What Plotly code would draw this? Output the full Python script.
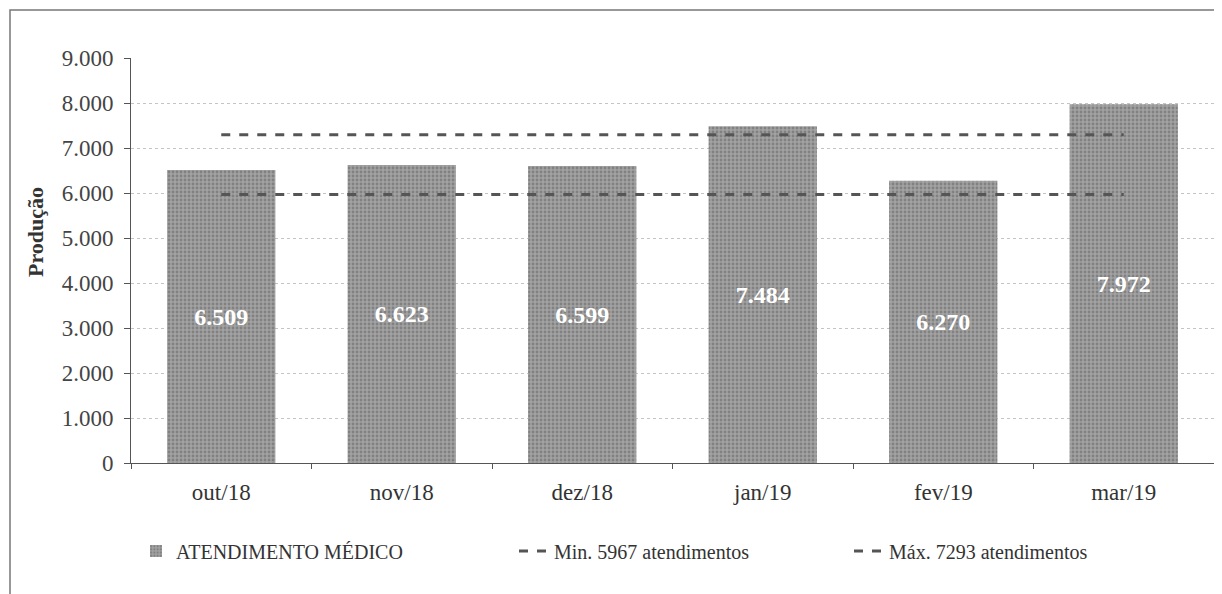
import plotly.graph_objects as go

categories = ["out/18", "nov/18", "dez/18", "jan/19", "fev/19", "mar/19"]
atendimentos = [6509, 6623, 6599, 7484, 6270, 7972]
min_value = 5967
max_value = 7293
bar_name = "ATENDIMENTO MÉDICO"
min_name = "Min. 5967 atendimentos"
max_name = "Máx. 7293 atendimentos"
y_ticks = [0, 1000, 2000, 3000, 4000, 5000, 6000, 7000, 8000, 9000]

FONT = "Liberation Serif"
W, H = 1214, 586          # page body has an 8px margin
L, R, T, B = 123, 8, 50, 131
PW, PH = W - L - R, H - T - B


def px(xp):
    return (xp - L) / PW


def py(yp):
    return (H - B - yp) / PH


fig = go.Figure()
fig.add_trace(go.Bar(
    x=categories, y=atendimentos, name=bar_name,
    marker=dict(color="#949494", line=dict(width=0),
                pattern=dict(shape=".", fgcolor="#606060", bgcolor="#a2a2a2",
                             size=4, solidity=0.4)),
    width=0.6,
    texttemplate="<b>%{y:,}</b>", textposition="inside",
    insidetextanchor="middle",
    textfont=dict(color="white", size=24, family=FONT),
    legendwidth=333,
))
fig.add_trace(go.Scatter(
    x=categories, y=[min_value] * len(categories), name=min_name,
    mode="lines", line=dict(color="#555555", width=3, dash="dash"),
    legendwidth=290,
))
fig.add_trace(go.Scatter(
    x=categories, y=[max_value] * len(categories), name=max_name,
    mode="lines", line=dict(color="#555555", width=3, dash="dash"),
    legendwidth=290,
))

fig.update_layout(
    width=W, height=H,
    margin=dict(l=L, r=R, t=T, b=B, autoexpand=False),
    paper_bgcolor="white", plot_bgcolor="white",
    separators=",.",
    font=dict(family=FONT, size=20, color="#333333"),
    showlegend=True,
    legend=dict(orientation="h", x=px(128), xanchor="left", y=py(543), yanchor="middle",
                font=dict(size=20, family=FONT, color="#333333"),
                traceorder="normal"),
    bargap=0.4,
)
fig.update_yaxes(
    range=[0, 9000], tickvals=y_ticks, tickformat=",d",
    showgrid=True, gridcolor="#c4c4c4", griddash="dot", gridwidth=1,
    showline=True, linecolor="#555555", linewidth=1,
    ticks="outside", ticklen=6, tickcolor="#555555",
    tickfont=dict(size=23, family=FONT, color="#444444"),
    ticklabelstandoff=6,
    zeroline=False,
)
fig.update_xaxes(
    showline=True, linecolor="#555555", linewidth=1,
    ticks="outside", tickson="boundaries", ticklen=5, tickcolor="#555555",
    tickfont=dict(size=23, family=FONT, color="#333333"),
    ticklabelstandoff=8,
    showgrid=False,
)
fig.add_annotation(
    text="<b>Produção</b>", textangle=-90, xref="paper", yref="paper",
    x=px(28), y=py(224), xanchor="center", yanchor="middle", showarrow=False,
    font=dict(size=22, family=FONT, color="#333333"),
)
# outer frame
fig.add_shape(type="rect", xref="paper", yref="paper",
              x0=px(2), x1=px(W + 10), y0=py(H + 10), y1=py(2),
              line=dict(color="#777777", width=1.5), layer="below")

fig.write_html("out.html")
